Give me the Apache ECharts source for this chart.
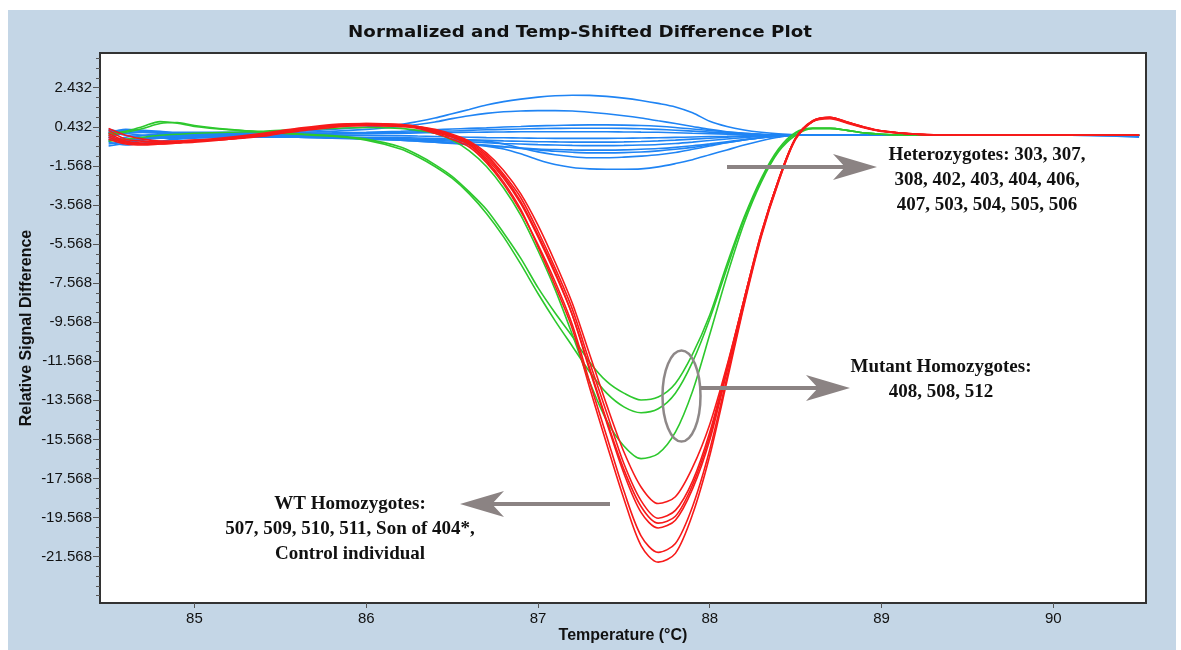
<!DOCTYPE html>
<html>
<head>
<meta charset="utf-8">
<title>Normalized and Temp-Shifted Difference Plot</title>
<script src="https://cdn.jsdelivr.net/npm/echarts@6/dist/echarts.min.js"></script>
<style>
  html, body { margin: 0; padding: 0; background: #ffffff; }
  #panel { position: absolute; left: 8px; top: 10px; width: 1168px; height: 640px; background: #c4d6e6; }
  #chart { position: absolute; left: 0; top: 0; width: 1181px; height: 650px; }
</style>
</head>
<body>
<div id="panel"></div>
<div id="chart"></div>
<script>
// Melt temperatures (°C) shared by every curve
const temps = [84.5, 84.6, 84.7, 84.8, 84.9, 85.0, 85.2, 85.4, 85.6, 85.8, 86.0,
  86.2, 86.3, 86.4, 86.5, 86.6, 86.7, 86.8, 86.9, 87.0, 87.1, 87.2, 87.3, 87.4, 87.5,
  87.6, 87.7, 87.8, 87.9, 88.0, 88.1, 88.2, 88.3, 88.4,
  88.5, 88.6, 88.7, 88.8, 88.9, 89.0, 89.2, 89.5, 89.8, 90.1, 90.5];

// Heterozygotes (blue)
const het303 = [0.1, 0.3, 0.25, 0.2, 0.15, 0.15, 0.15, 0.15, 0.2, 0.3, 0.42,
  0.55, 0.7, 0.88, 1.1, 1.32, 1.55, 1.72, 1.85, 1.95, 2.02, 2.05, 2.04, 1.99, 1.9, 1.78, 1.63, 1.45, 1.15, 0.72, 0.45, 0.27, 0.15, 0.07,
  0.02, 0, 0, 0, 0, 0, 0, 0, 0, 0, 0];
const het307 = [0.0, 0.25, 0.2, 0.15, 0.1, 0.1, 0.1, 0.12, 0.15, 0.2, 0.3,
  0.45, 0.55, 0.68, 0.85, 1.0, 1.12, 1.2, 1.24, 1.26, 1.26, 1.24, 1.18, 1.1, 1.0, 0.88, 0.74, 0.6, 0.45, 0.3, 0.18, 0.1, 0.05, 0.02,
  0, 0, 0, 0, 0, 0, 0, 0, 0, 0, 0];
const het308 = [0.2, 0.25, 0.2, 0.15, 0.1, 0.05, 0.05, 0.05, 0.1, 0.12, 0.15,
  0.2, 0.25, 0.28, 0.32, 0.35, 0.38, 0.42, 0.45, 0.48, 0.5, 0.52, 0.53, 0.53, 0.52, 0.5, 0.46, 0.4, 0.32, 0.24, 0.16, 0.1, 0.05, 0.02,
  0, 0, 0, 0, 0, 0, 0, 0, 0, 0, 0];
const het402 = [-0.1, 0.1, 0.15, 0.1, 0.05, 0.05, 0.0, 0.0, 0.05, 0.1, 0.12,
  0.15, 0.18, 0.2, 0.22, 0.25, 0.28, 0.3, 0.32, 0.34, 0.35, 0.36, 0.36, 0.36, 0.35, 0.33, 0.3, 0.26, 0.21, 0.16, 0.11, 0.07, 0.04, 0.02,
  0, 0, 0, 0, 0, 0, 0, 0, 0, 0, 0];
const het403 = [-0.3, -0.1, 0.0, 0.05, 0.05, 0.0, 0.0, 0.0, 0.02, 0.05, 0.08,
  0.1, 0.12, 0.13, 0.14, 0.15, 0.16, 0.17, 0.18, 0.18, 0.18, 0.18, 0.18, 0.18, 0.17, 0.16, 0.15, 0.13, 0.1, 0.08, 0.06, 0.04, 0.02, 0.01,
  0, 0, 0, 0, 0, 0, 0, 0, 0, 0, -0.05];
const het404 = [-0.45, -0.3, -0.15, -0.05, 0.0, 0.0, -0.02, -0.02, 0.0, 0.0, 0.0,
  -0.02, -0.04, -0.06, -0.08, -0.1, -0.12, -0.13, -0.14, -0.15, -0.16, -0.16, -0.16, -0.16, -0.15, -0.14, -0.13, -0.11, -0.09, -0.07, -0.05, -0.03, -0.02, -0.01,
  0, 0, 0, 0, 0, 0, 0, 0, 0, 0, 0];
const het406 = [-0.55, -0.4, -0.25, -0.15, -0.1, -0.05, -0.05, -0.05, -0.05, -0.08, -0.1,
  -0.12, -0.14, -0.17, -0.2, -0.23, -0.26, -0.29, -0.31, -0.33, -0.34, -0.35, -0.35, -0.35, -0.34, -0.32, -0.29, -0.25, -0.2, -0.15, -0.1, -0.06, -0.03, -0.01,
  0, 0, 0, 0, 0, 0, 0, 0, 0, 0, -0.1];
const het407 = [-0.35, -0.5, -0.4, -0.3, -0.2, -0.15, -0.1, -0.1, -0.1, -0.12, -0.15,
  -0.18, -0.22, -0.26, -0.3, -0.34, -0.38, -0.42, -0.45, -0.48, -0.5, -0.52, -0.53, -0.53, -0.52, -0.5, -0.47, -0.42, -0.35, -0.27, -0.19, -0.12, -0.06, -0.02,
  0, 0, 0, 0, 0, 0, 0, 0, 0, 0, 0];
const het503 = [0.15, 0.0, -0.1, -0.15, -0.15, -0.12, -0.1, -0.1, -0.1, -0.15, -0.2,
  -0.25, -0.3, -0.35, -0.4, -0.45, -0.5, -0.58, -0.67, -0.75, -0.82, -0.87, -0.9, -0.9, -0.89, -0.86, -0.8, -0.72, -0.62, -0.5, -0.37, -0.24, -0.13, -0.05,
  0, 0, 0, 0, 0, 0, 0, 0, 0, 0, 0];
const het504 = [0.3, 0.1, 0.0, -0.05, -0.1, -0.1, -0.08, -0.08, -0.1, -0.12, -0.15,
  -0.18, -0.2, -0.22, -0.24, -0.27, -0.3, -0.45, -0.65, -0.85, -1.0, -1.1, -1.15, -1.15, -1.12, -1.07, -1.0, -0.88, -0.72, -0.55, -0.38, -0.24, -0.12, -0.04,
  0, 0, 0, 0, 0, 0, 0, 0, 0, 0, 0];
const het505 = [-0.2, -0.3, -0.2, -0.1, -0.05, -0.05, -0.05, -0.05, -0.08, -0.12, -0.18,
  -0.25, -0.3, -0.36, -0.42, -0.48, -0.54, -0.6, -0.65, -0.7, -0.73, -0.75, -0.76, -0.76, -0.75, -0.72, -0.68, -0.62, -0.54, -0.44, -0.33, -0.22, -0.12, -0.05,
  0, 0, 0, 0, 0, 0, 0, 0, 0, 0, 0];
const het506 = [-0.1, -0.25, -0.2, -0.1, -0.05, -0.05, -0.05, -0.05, -0.1, -0.12, -0.15,
  -0.2, -0.25, -0.3, -0.38, -0.46, -0.56, -0.7, -0.95, -1.25, -1.5, -1.65, -1.72, -1.74, -1.74, -1.72, -1.62, -1.45, -1.25, -1.0, -0.75, -0.5, -0.28, -0.1,
  0, 0, 0, 0, 0, 0, 0, 0, 0, 0, 0];

// Mutant homozygotes (green)
const mut408 = [0.1, 0.2, 0.45, 0.7, 0.62, 0.45, 0.28, 0.18, 0.08, -0.02, -0.2,
  -0.6, -1.0, -1.5, -2.1, -2.9, -3.8, -5.0, -6.3, -7.8, -9.1, -10.3, -11.6, -12.6, -13.2, -13.55, -13.4, -12.7, -11.2, -9.2, -6.6, -4.2, -2.2, -0.7,
  0.15, 0.35, 0.35, 0.25, 0.12, 0.05, 0, 0, 0, 0, 0];
const mut508 = [0.0, 0.15, 0.35, 0.6, 0.65, 0.5, 0.3, 0.15, 0.05, -0.05, -0.25,
  -0.7, -1.1, -1.6, -2.2, -3.0, -4.0, -5.2, -6.6, -8.1, -9.5, -10.8, -12.1, -13.2, -13.9, -14.2, -14.0, -13.2, -11.6, -9.4, -6.8, -4.3, -2.3, -0.8,
  0.1, 0.35, 0.35, 0.25, 0.12, 0.05, 0, 0, 0, 0, 0];
const mut512 = [-0.3, -0.2, -0.1, 0.0, 0.05, 0.1, 0.15, 0.2, 0.3, 0.35, 0.4,
  0.35, 0.25, 0.1, -0.25, -0.8, -1.6, -2.7, -4.1, -5.9, -7.9, -10.2, -12.6, -14.6, -15.9, -16.55, -16.3, -15.2, -13.1, -10.2, -7.2, -4.5, -2.4, -0.85,
  0.0, 0.35, 0.35, 0.25, 0.12, 0.05, 0, 0, 0, 0, 0];

// WT homozygotes (red)
const wt507 = [0.25, -0.2, -0.3, -0.35, -0.3, -0.25, -0.2, 0.0, 0.2, 0.4, 0.5,
  0.45, 0.4, 0.15, -0.1, -0.5, -1.3, -2.4, -3.8, -5.7, -7.7, -9.9, -12.9, -15.8, -18.6, -21.0, -21.85, -21.4, -19.4, -16.4, -12.6, -8.7, -5.2, -2.4,
  -0.2, 0.7, 0.88, 0.65, 0.4, 0.22, 0.05, 0, 0, 0, 0];
const wt509 = [0.1, -0.3, -0.4, -0.4, -0.35, -0.3, -0.2, -0.05, 0.25, 0.45, 0.5,
  0.45, 0.35, 0.1, -0.2, -0.6, -1.4, -2.5, -3.9, -5.6, -7.5, -9.7, -12.6, -15.4, -18.2, -20.5, -21.35, -20.9, -19.0, -16.1, -12.4, -8.6, -5.1, -2.3,
  -0.15, 0.72, 0.9, 0.66, 0.4, 0.22, 0.05, 0, 0, 0, 0];
const wt510 = [-0.1, -0.4, -0.45, -0.4, -0.35, -0.3, -0.15, 0.05, 0.3, 0.5, 0.55,
  0.5, 0.4, 0.2, -0.05, -0.4, -1.1, -2.1, -3.4, -5.1, -7.0, -9.2, -12.0, -14.7, -17.3, -19.3, -20.1, -19.7, -18.1, -15.6, -12.1, -8.5, -5.1, -2.3,
  -0.15, 0.74, 0.92, 0.68, 0.42, 0.23, 0.06, 0, 0, 0, 0];
const wt511 = [0.0, -0.35, -0.45, -0.45, -0.4, -0.35, -0.2, 0.0, 0.25, 0.45, 0.55,
  0.5, 0.4, 0.2, -0.05, -0.45, -1.2, -2.2, -3.5, -5.2, -7.1, -9.2, -11.9, -14.6, -17.1, -19.0, -19.85, -19.5, -17.9, -15.4, -12.0, -8.4, -5.0, -2.3,
  -0.15, 0.72, 0.9, 0.66, 0.4, 0.22, 0.05, 0, 0, 0, 0];
const wtSon404 = [-0.2, -0.45, -0.5, -0.45, -0.4, -0.3, -0.15, 0.05, 0.3, 0.5, 0.6,
  0.55, 0.45, 0.25, 0.0, -0.35, -1.0, -2.0, -3.2, -4.9, -6.8, -8.9, -11.6, -14.2, -16.8, -18.7, -19.6, -19.2, -17.7, -15.2, -11.9, -8.4, -5.0, -2.3,
  -0.15, 0.75, 0.92, 0.68, 0.42, 0.23, 0.06, 0, 0, 0, 0];
const wtControl = [0.35, 0.0, -0.2, -0.3, -0.3, -0.25, -0.1, 0.1, 0.35, 0.55, 0.6,
  0.55, 0.45, 0.3, 0.05, -0.3, -0.9, -1.8, -3.0, -4.6, -6.5, -8.6, -11.2, -13.8, -16.2, -18.0, -18.85, -18.5, -17.0, -14.8, -11.8, -8.4, -5.1, -2.4,
  -0.2, 0.7, 0.85, 0.62, 0.38, 0.2, 0.05, 0, 0, 0, 0];

// Axis ticks
const xTicks = [85, 86, 87, 88, 89, 90];
const yTicks = [-21.568, -19.568, -17.568, -15.568, -13.568, -11.568, -9.568, -7.568, -5.568, -3.568, -1.568, 0.432, 2.432];
const xRange = [84.45, 90.54];
const yRange = [-23.94, 4.21];

// Minor y ticks every 0.5 between the labelled ones
const yMinorTicks = [];
for (let v = yTicks[0] - 2; v <= yRange[1]; v += 0.5) {
  if (v >= yRange[0]) yMinorTicks.push(+v.toFixed(3));
}

const groups = [
  { color: '#1f84f4', curves: { '303': het303, '307': het307, '308': het308, '402': het402, '403': het403, '404': het404,
      '406': het406, '407': het407, '503': het503, '504': het504, '505': het505, '506': het506 } },
  { color: '#2dc82d', curves: { '408': mut408, '508': mut508, '512': mut512 } },
  { color: '#f71a1a', curves: { '507': wt507, '509': wt509, '510': wt510, '511': wt511, 'Son of 404': wtSon404, 'Control': wtControl } }
];

const series = [];
groups.forEach(g => {
  Object.keys(g.curves).forEach(name => {
    const vals = g.curves[name];
    series.push({
      name: name,
      type: 'line',
      showSymbol: false,
      smooth: 0.3,
      data: temps.map((t, i) => [t, vals[i]]),
      lineStyle: { color: g.color, width: 1.6 },
      itemStyle: { color: g.color },
      emphasis: { disabled: true },
      z: 2
    });
  });
});

const gray = '#8b8383';
const serifBold = 'bold 19px "Liberation Serif", "Times New Roman", serif';

function arrow(x1, y, x2, dir) {
  // shaft from x1 to the head, head tip at x2; dir = +1 right, -1 left
  const len = 44, half = 13, notch = 32;
  return [
    { type: 'line', z: 100, silent: true,
      shape: { x1: x1, y1: y, x2: x2 - dir * (notch - 2), y2: y },
      style: { stroke: gray, lineWidth: 4 } },
    { type: 'polygon', z: 100, silent: true,
      shape: { points: [[x2, y], [x2 - dir * len, y - half], [x2 - dir * notch, y], [x2 - dir * len, y + half]] },
      style: { fill: gray } }
  ];
}

function label(text, x, y, font, extra) {
  return Object.assign({
    type: 'text', z: 100, silent: true, x: x, y: y,
    style: { text: text, font: font, fill: '#111',
      align: 'center', textAlign: 'center', verticalAlign: 'middle', textVerticalAlign: 'middle', lineHeight: 25 }
  }, extra || {});
}

const chart = echarts.init(document.getElementById('chart'), null, { renderer: 'canvas' });
chart.setOption({
  animation: false,
  backgroundColor: 'transparent',
  grid: {
    left: 100, right: 35, top: 53, bottom: 47,
    show: true, backgroundColor: '#ffffff', borderColor: '#333333', borderWidth: 2
  },
  xAxis: {
    type: 'value', min: xRange[0], max: xRange[1], position: 'bottom',
    axisLine: { show: true, onZero: false, lineStyle: { color: '#333333', width: 2 } },
    axisTick: { show: true, customValues: xTicks, length: 5, lineStyle: { color: '#555555' } },
    axisLabel: { customValues: xTicks, margin: 8, color: '#111',
      fontFamily: '"Liberation Sans", Arial, sans-serif', fontSize: 15 },
    splitLine: { show: false }
  },
  yAxis: [
    {
      type: 'value', min: yRange[0], max: yRange[1], position: 'left',
      axisLine: { show: true, onZero: false, lineStyle: { color: '#333333', width: 2 } },
      axisTick: { show: true, customValues: yTicks, length: 7, lineStyle: { color: '#555555' } },
      axisLabel: { customValues: yTicks, margin: 8, color: '#111',
        fontFamily: '"Liberation Sans", Arial, sans-serif', fontSize: 15,
        formatter: v => v.toFixed(3) },
      splitLine: { show: false }
    },
    {
      type: 'value', min: yRange[0], max: yRange[1], position: 'left',
      axisLine: { show: false, onZero: false },
      axisTick: { show: true, customValues: yMinorTicks, length: 4, lineStyle: { color: '#555555' } },
      axisLabel: { show: false },
      splitLine: { show: false }
    }
  ],
  series: series,
  graphic: [
    label('Normalized and Temp-Shifted Difference Plot', 580, 33, 'bold 16px "DejaVu Sans", sans-serif', { scaleX: 1.14 }),
    label('Temperature (°C)', 623, 636, 'bold 16px "Liberation Sans", Arial, sans-serif'),
    label('Relative Signal Difference', 27, 328, 'bold 16px "Liberation Sans", Arial, sans-serif', { rotation: Math.PI / 2 }),
    label('Heterozygotes: 303, 307,\n308, 402, 403, 404, 406,\n407, 503, 504, 505, 506', 987, 180, serifBold),
    label('Mutant Homozygotes:\n408, 508, 512', 941, 380, serifBold),
    label('WT Homozygotes:\n507, 509, 510, 511, Son of 404*,\nControl individual', 350, 529, serifBold),
    { type: 'ellipse', z: 100, silent: true,
      shape: { cx: 681.5, cy: 396, rx: 19, ry: 45.5 },
      style: { fill: 'none', stroke: '#8e8888', lineWidth: 2.5 } }
  ].concat(arrow(727, 167, 877, 1), arrow(700, 388, 850, 1), arrow(610, 504, 460, -1))
});
</script>
</body>
</html>
